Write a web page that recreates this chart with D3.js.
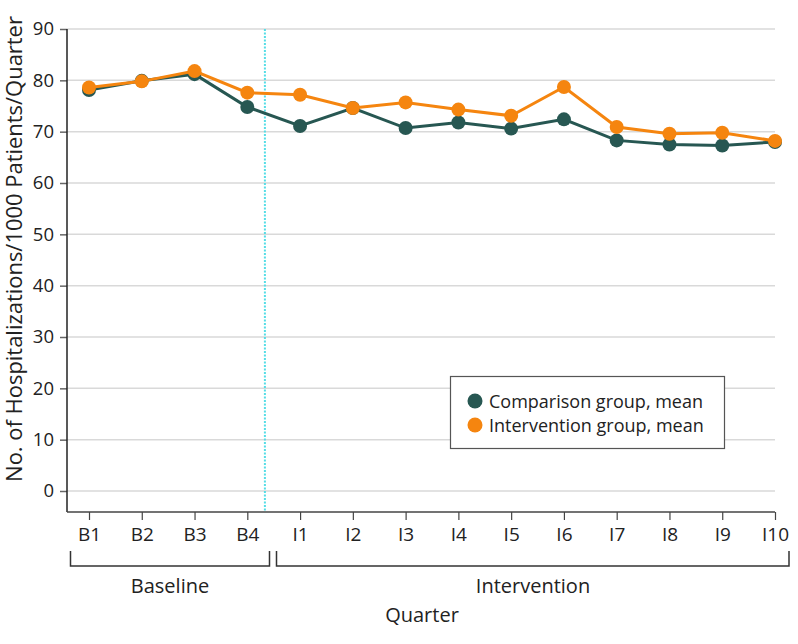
<!DOCTYPE html>
<html>
<head>
<meta charset="utf-8">
<script src="https://cdn.jsdelivr.net/npm/d3@7"></script>
<style>
  html, body { margin: 0; padding: 0; background: #fff; }
  svg { display: block; font-family: "Open Sans", "Noto Sans", sans-serif; }
</style>
</head>
<body>
<svg id="chart" width="798" height="644"></svg>
<script>
const quarters = ["B1","B2","B3","B4","I1","I2","I3","I4","I5","I6","I7","I8","I9","I10"];
const comparison = [78.1, 79.9, 81.2, 74.8, 71.1, 74.6, 70.7, 71.8, 70.6, 72.4, 68.3, 67.5, 67.3, 68.0];
const intervention = [78.6, 79.8, 81.8, 77.6, 77.2, 74.6, 75.7, 74.3, 73.1, 78.7, 70.9, 69.6, 69.8, 68.2];
const yTicks = [0, 10, 20, 30, 40, 50, 60, 70, 80, 90];
const seriesNames = ["Comparison group, mean", "Intervention group, mean"];
const colors = ["#275752", "#f5850f"];
const groups = [{label: "Baseline", from: 0, to: 3}, {label: "Intervention", from: 4, to: 13}];

const svg = d3.select("#chart");
const plotLeft = 67, plotRight = 775, plotTop = 29, plotBottom = 512;

const x = d3.scaleLinear().domain([0, quarters.length - 1]).range([89, 775]);
const y = d3.scaleLinear().domain([0, 90]).range([491, 29]);

// gridlines
svg.append("g").selectAll("line").data(yTicks).join("line")
  .attr("x1", plotLeft).attr("x2", plotRight)
  .attr("y1", d => y(d)).attr("y2", d => y(d))
  .attr("stroke", "#d9d9d9").attr("stroke-width", 1.5);

// y axis
const yAxis = svg.append("g").attr("transform", `translate(${plotLeft},0)`)
  .call(d3.axisLeft(y).tickValues(yTicks).tickSize(7).tickPadding(6));
yAxis.select(".domain").remove();
yAxis.selectAll(".tick line").attr("stroke", "#666").attr("stroke-width", 1.5);
yAxis.selectAll(".tick text").attr("font-size", 18.5).attr("fill", "#222")
  .attr("font-family", "'Open Sans', sans-serif");
svg.append("line").attr("x1", plotLeft).attr("x2", plotLeft)
  .attr("y1", plotTop).attr("y2", plotBottom).attr("stroke", "#222").attr("stroke-width", 1.5);

// x axis
const xAxis = svg.append("g").attr("transform", `translate(0,${plotBottom})`)
  .call(d3.axisBottom(x).tickValues(d3.range(quarters.length)).tickFormat(i => quarters[i]).tickSize(8).tickPadding(8));
xAxis.select(".domain").remove();
xAxis.selectAll(".tick line").attr("stroke", "#444").attr("stroke-width", 1.2);
xAxis.selectAll(".tick text").attr("font-size", 19).attr("fill", "#222")
  .attr("font-family", "'Open Sans', sans-serif");
svg.append("line").attr("x1", plotLeft).attr("x2", plotRight)
  .attr("y1", plotBottom).attr("y2", plotBottom).attr("stroke", "#444").attr("stroke-width", 1.5);

// separator dotted line
const sepX = x(3) + (x(4) - x(3)) / 3;
svg.append("line").attr("x1", sepX).attr("x2", sepX)
  .attr("y1", plotTop).attr("y2", plotBottom)
  .attr("stroke", "#55dde6").attr("stroke-width", 2).attr("stroke-dasharray", "2,1.5");

// series
const seriesData = [comparison, intervention];
const line = d3.line().x((d, i) => x(i)).y(d => y(d));
seriesData.forEach((vals, k) => {
  const g = svg.append("g");
  g.append("path").datum(vals).attr("d", line)
    .attr("fill", "none").attr("stroke", colors[k]).attr("stroke-width", 3);
  g.selectAll("circle").data(vals).join("circle")
    .attr("cx", (d, i) => x(i)).attr("cy", d => y(d)).attr("r", 7)
    .attr("fill", colors[k]);
});

// brackets
const bracketY = 566, bracketTop = 551;
const bracketEnds = [[70.5, 269.5], [276.5, 789]];
groups.forEach((g, k) => {
  const [x0, x1] = bracketEnds[k];
  svg.append("path")
    .attr("d", `M${x0},${bracketTop}V${bracketY}H${x1}V${bracketTop}`)
    .attr("fill", "none").attr("stroke", "#333").attr("stroke-width", 1.5);
  svg.append("text").attr("x", k === 0 ? 170 : 533).attr("y", 593)
    .attr("text-anchor", "middle").attr("font-size", 20).attr("fill", "#222").text(g.label);
});

// x title
svg.append("text").attr("x", 422).attr("y", 622).attr("text-anchor", "middle")
  .attr("font-size", 20).attr("fill", "#222").text("Quarter");

// y title (font size tuned so the label spans ~468px like the reference)
const yTitle = svg.append("text").attr("transform", "translate(22,249) rotate(-90)")
  .attr("text-anchor", "middle").attr("font-size", 20).attr("fill", "#222")
  .text("No. of Hospitalizations/1000 Patients/Quarter");
const len = yTitle.node().getComputedTextLength();
if (len > 0) {
  const fs = Math.min(22, Math.max(18, 20 * 466 / len));
  yTitle.attr("font-size", fs);
}

// legend
const lg = svg.append("g");
lg.append("rect").attr("x", 450.5).attr("y", 376.5).attr("width", 274).attr("height", 72)
  .attr("fill", "#fff").attr("stroke", "#555").attr("stroke-width", 1.2);
seriesNames.forEach((name, k) => {
  const cy = 401 + k * 24;
  lg.append("circle").attr("cx", 475).attr("cy", cy).attr("r", 7.5).attr("fill", colors[k]);
  lg.append("text").attr("x", 489).attr("y", cy + 6.5).attr("font-size", 18)
    .attr("fill", "#222").text(name);
});
</script>
</body>
</html>
